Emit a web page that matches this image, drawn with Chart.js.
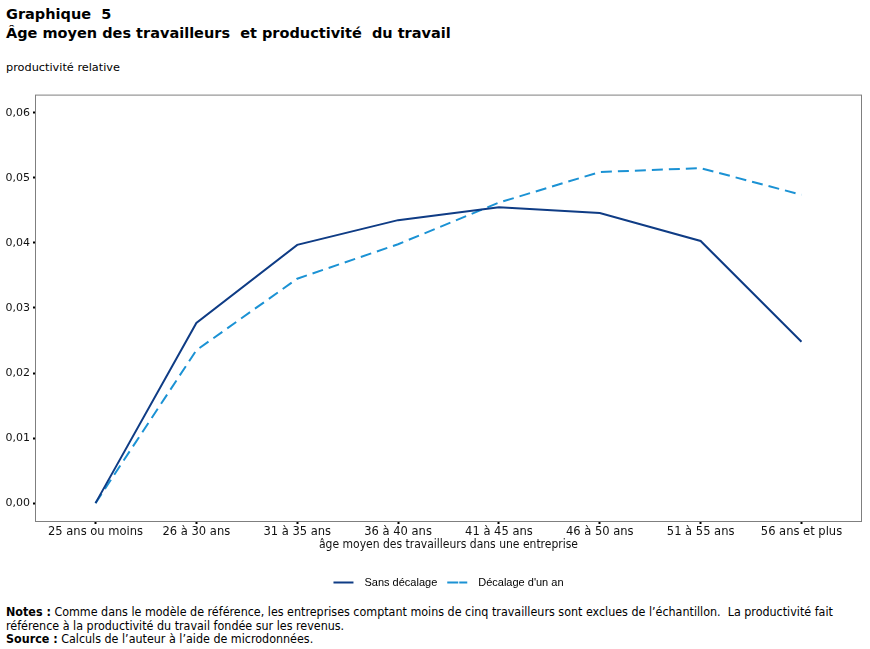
<!DOCTYPE html>
<html>
<head>
<meta charset="utf-8">
<script src="https://cdn.jsdelivr.net/npm/chart.js@4/dist/chart.umd.min.js"></script>
<style>
  body { margin: 0; width: 870px; height: 649px; background: #fff; position: relative; overflow: hidden; }
  .title { position: absolute; left: 6px; top: 5px; font-family: "DejaVu Sans", Verdana, sans-serif; font-weight: bold; font-size: 14.5px; line-height: 19px; color: #000; }
  .unit { position: absolute; left: 6px; top: 61px; font-family: "DejaVu Sans", Verdana, sans-serif; font-size: 11.3px; color: #000; }
  #wrap { position: absolute; left: 0; top: 85px; width: 870px; height: 515px; }
  .notes { position: absolute; left: 6px; top: 605px; font-family: "Liberation Sans Narrow", "DejaVu Sans Condensed", sans-serif; font-size: 12.4px; line-height: 13.5px; color: #000; width: 860px; }
</style>
</head>
<body>
<div class="title">Graphique&nbsp; 5<br>Âge moyen des travailleurs&nbsp; et productivité&nbsp; du travail</div>
<div class="unit">productivité relative</div>
<div id="wrap"><canvas id="chart"></canvas></div>
<div class="notes"><b>Notes :</b> Comme dans le modèle de référence, les entreprises comptant moins de cinq travailleurs sont exclues de l’échantillon.&nbsp; La productivité fait<br>référence à la productivité du travail fondée sur les revenus.<br><b>Source :</b> Calculs de l’auteur à l’aide de microdonnées.</div>
<script>
// categories (âge moyen des travailleurs)
var categories = ['25 ans ou moins', '26 à 30 ans', '31 à 35 ans', '36 à 40 ans',
                  '41 à 45 ans', '46 à 50 ans', '51 à 55 ans', '56 ans et plus'];
// productivité relative
var sansDecalage = [0.0, 0.0277, 0.0397, 0.0435, 0.0455, 0.0446, 0.0403, 0.0248];
var decalageUnAn = [0.0, 0.0235, 0.0345, 0.0398, 0.0462, 0.0509, 0.0515, 0.0474];
var yTicks = [0, 0.01, 0.02, 0.03, 0.04, 0.05, 0.06];

function toPoints(arr) {
  return arr.map(function(v, i) { return { x: i, y: v }; });
}

// grey frame round the plot area
var framePlugin = {
  id: 'frame',
  afterDraw: function(chart) {
    var a = chart.chartArea, ctx = chart.ctx;
    ctx.save();
    ctx.strokeStyle = '#7f7f7f';
    ctx.lineWidth = 1;
    ctx.strokeRect(a.left + 0.5, a.top + 0.5, a.right - a.left - 1, a.bottom - a.top - 1);
    ctx.restore();
  }
};

// legend is centred on the plot area in the original, not on the canvas
var legendShift = {
  id: 'legendShift',
  afterLayout: function(chart) {
    var lg = chart.legend;
    if (!lg) return;
    var a = chart.chartArea;
    var off = (a.left + a.right) / 2 - (lg.left + lg.right) / 2;
    lg.left += off;
    lg.right += off;
  }
};

new Chart(document.getElementById('chart'), {
  type: 'line',
  data: {
    datasets: [{
      label: 'Sans décalage',
      data: toPoints(sansDecalage),
      borderColor: '#0f3c85',
      backgroundColor: '#0f3c85',
      borderWidth: 2,
      pointRadius: 0,
      tension: 0
    }, {
      label: "Décalage d'un an",
      data: toPoints(decalageUnAn),
      borderColor: '#1b92d4',
      backgroundColor: '#1b92d4',
      borderWidth: 2,
      borderDash: [11, 6],
      pointRadius: 0,
      tension: 0
    }]
  },
  options: {
    responsive: true,
    maintainAspectRatio: false,
    animation: false,
    layout: { padding: { top: 9, right: 8, left: 0, bottom: 2 } },
    plugins: {
      tooltip: { enabled: false },
      legend: {
        position: 'bottom',
        labels: {
          font: { family: 'Liberation Sans, Arial, sans-serif', size: 11 },
          color: '#222',
          boxWidth: 20,
          boxHeight: 0,
          padding: 10,
          generateLabels: function(chart) {
            return chart.data.datasets.map(function(ds, i) {
              return {
                text: '\u2002' + ds.label,
                strokeStyle: ds.borderColor,
                fillStyle: ds.borderColor,
                lineWidth: 2,
                lineDash: ds.borderDash || [],
                datasetIndex: i
              };
            });
          }
        }
      }
    },
    scales: {
      x: {
        type: 'linear',
        min: -0.6,
        max: 7.6,
        afterBuildTicks: function(scale) {
          scale.ticks = categories.map(function(c, i) { return { value: i }; });
        },
        afterFit: function(scale) { scale.height = 45; },
        ticks: {
          autoSkip: false,
          maxRotation: 0,
          padding: 0,
          color: '#111',
          font: { family: 'Liberation Sans Narrow, DejaVu Sans Condensed, sans-serif', size: 12.8 },
          callback: function(v) { return categories[v]; }
        },
        grid: { drawOnChartArea: false, tickLength: 2, color: '#000', tickWidth: 2 },
        border: { display: false },
        title: {
          display: true,
          text: 'âge moyen des travailleurs dans une entreprise',
          color: '#111',
          font: { family: 'Liberation Sans Narrow, DejaVu Sans Condensed, sans-serif', size: 12 },
          padding: { top: 0, bottom: 15 }
        }
      },
      y: {
        min: -0.0029,
        max: 0.0628,
        afterBuildTicks: function(scale) {
          scale.ticks = yTicks.map(function(v) { return { value: v }; });
        },
        afterFit: function(scale) { scale.width = 35; },
        ticks: {
          padding: 3,
          color: '#111',
          font: { family: 'DejaVu Sans, Verdana, sans-serif', size: 11 },
          callback: function(v) { return v.toFixed(2).replace('.', ','); }
        },
        grid: { drawOnChartArea: false, tickLength: 2, color: '#000', tickWidth: 2 },
        border: { display: false }
      }
    }
  },
  plugins: [framePlugin, legendShift]
});
</script>
</body>
</html>
